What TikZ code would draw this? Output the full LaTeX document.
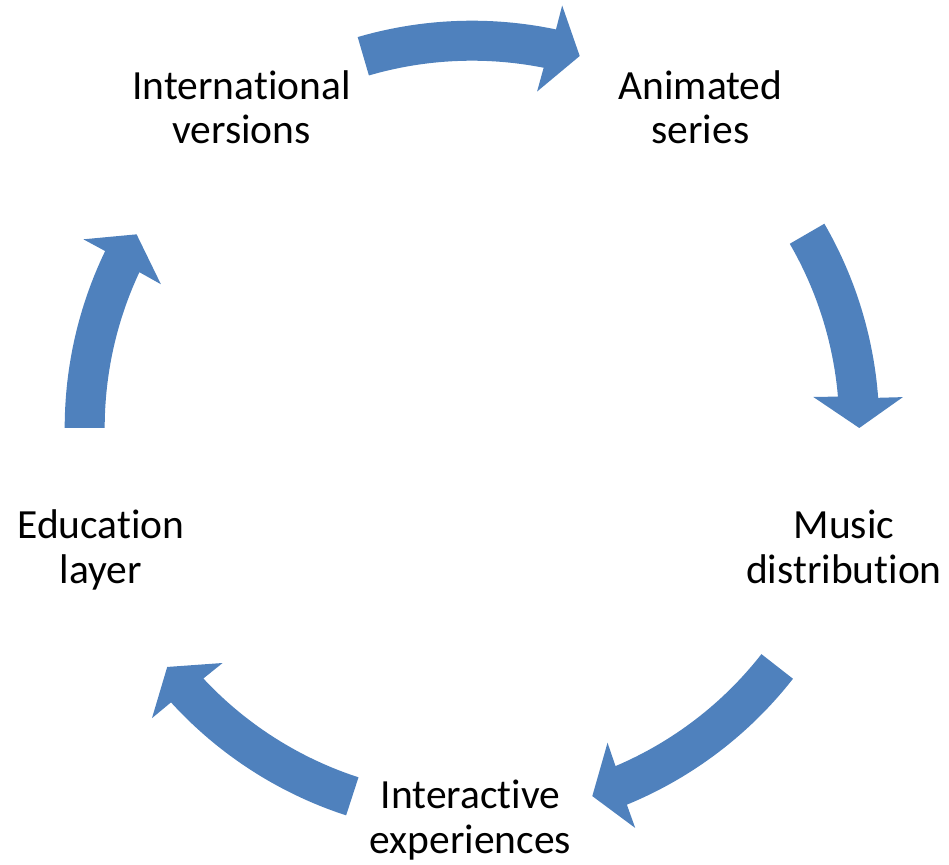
\documentclass[tikz,border=0pt]{standalone}
\usepackage{fontspec}
\setmainfont{Carlito}[Ligatures=NoCommon]
\definecolor{accentblue}{RGB}{79,129,189}
\newcommand\cycarrow[2]{% #1 tail angle, #2 tip angle
  \fill[arrowfill] (#1:407.3) arc[start angle=#1, end angle={#2+4.25}, radius=407.3]
    -- ({#2+4.1}:432) -- (#2:387.3) -- ({#2+5.2}:342.7) -- ({#2+4.9}:367.3)
    arc[start angle={#2+4.9}, end angle=#1, radius=367.3] -- cycle;}
\begin{document}
\begin{tikzpicture}[x=0.5pt,y=0.5pt,
  lbl/.style={align=center, font=\fontsize{20.75}{22.35}\selectfont, inner sep=0pt, anchor=base},
  arrowfill/.style={fill=accentblue}]
\useasboundingbox (-472,-437) rectangle (477,428);
\cycarrow{106.3}{73.85}
\cycarrow{30.1}{0}
\cycarrow{-38}{-71.9}
\cycarrow{-108}{-141.9}
\cycarrow{180}{150}
\node[lbl] (anim) at (228.5,284) {Animated\\series};
\node[lbl] (music) at (372,-155.3) {Music\\distribution};
\node[lbl] (inter) at (-1.5,-425.3) {Interactive\\experiences};
\node[lbl] (edu) at (-371,-155.3) {Education\\layer};
\node[lbl] (intl) at (-230.5,284) {International\\versions};
\end{tikzpicture}
\end{document}
